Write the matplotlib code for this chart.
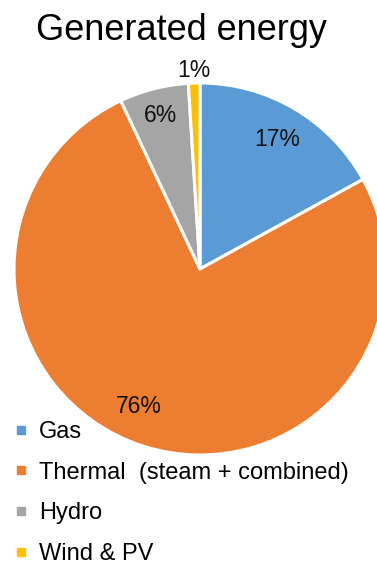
import numpy as np
import matplotlib
matplotlib.use("Agg")
import matplotlib.pyplot as plt
from matplotlib.lines import Line2D

plt.rcParams['font.family'] = ['Liberation Sans', 'DejaVu Sans']

categories = ["Gas", "Thermal  (steam + combined)", "Hydro", "Wind & PV"]
shares = [17, 76, 6, 1]
colors = ["#5B9BD5", "#ED7D31", "#A5A5A5", "#FFC000"]
label_dist = [0.81, 0.81, 0.85, 1.07]
label_angle_shift = [0, 6, 0, 0]

W, H = 377, 570
fig = plt.figure(figsize=(W / 100, H / 100), dpi=100)

# pie axes: centre (200, 269) px, radius 186 px
cx, cy, r = 200, 269, 186
ax = fig.add_axes([(cx - r) / W, (H - cy - r) / H, 2 * r / W, 2 * r / H])

wedges, _ = ax.pie(shares, colors=colors, startangle=90, counterclock=False,
                   radius=1, wedgeprops=dict(edgecolor='white', linewidth=2.2))
ax.set_xlim(-1, 1)
ax.set_ylim(-1, 1)
ax.set_aspect('equal')
ax.axis('off')
for w in wedges:
    w.set_clip_on(False)

total = sum(shares)
for w, v, d, s in zip(wedges, shares, label_dist, label_angle_shift):
    mid = np.deg2rad((w.theta1 + w.theta2) / 2 - s)
    ax.text(d * np.cos(mid), d * np.sin(mid), f"{v / total * 100:.0f}%",
            ha='center', va='center', fontsize=16.5, color='#111111')

fig.text(181 / W, 1 - 40 / H, "Generated energy", ha='center', va='baseline',
         fontsize=26, color='black')

handles = [Line2D([], [], marker='s', linestyle='none', markersize=6,
                  markerfacecolor=c, markeredgecolor=c) for c in colors]
fig.legend(handles, categories, loc='upper left',
           bbox_to_anchor=(14 / W, 1 - 421 / H), frameon=False,
           fontsize=17, handlelength=0.6, handletextpad=0.45,
           labelspacing=0.79, borderpad=0, borderaxespad=0)

fig.savefig("out.png", dpi=100)
